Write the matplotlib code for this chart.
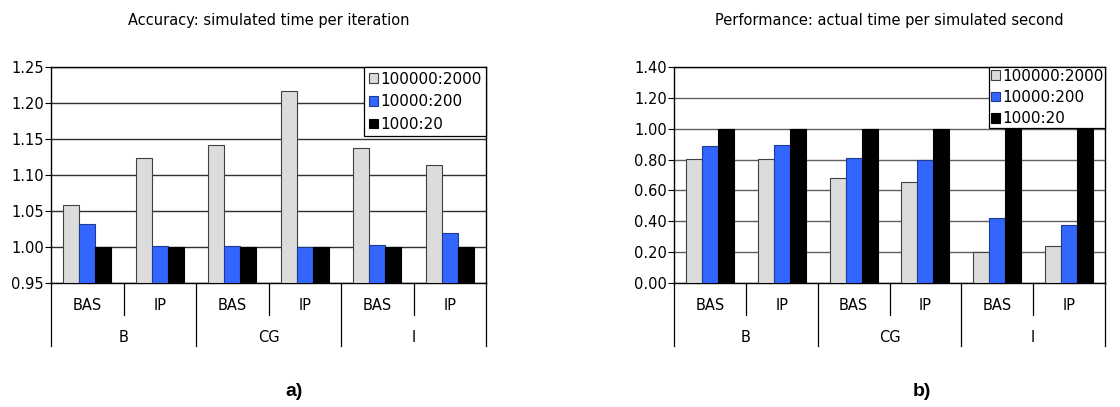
import numpy as np
import matplotlib.pyplot as plt
from matplotlib.ticker import FormatStrFormatter

# data
groups = ["B", "CG", "I"]
variants = ["BAS", "IP"]
series = ["100000:2000", "10000:200", "1000:20"]
colors = ["#dcdcdc", "#3366ff", "#000000"]
edges = ["#404040", "#1f3a8f", "#000000"]

acc_100000 = [1.059, 1.123, 1.142, 1.216, 1.138, 1.114]
acc_10000 = [1.032, 1.002, 1.001, 1.0005, 1.003, 1.019]
acc_1000 = [1.000, 1.000, 1.000, 1.000, 1.000, 1.000]

perf_100000 = [0.806, 0.806, 0.679, 0.656, 0.198, 0.239]
perf_10000 = [0.890, 0.897, 0.811, 0.798, 0.421, 0.376]
perf_1000 = [1.00, 1.00, 1.00, 1.00, 1.00, 1.00]

W, H = 1120, 407
fig = plt.figure(figsize=(W / 100, H / 100), dpi=100)


def px_rect(x0, x1, y_top, y_bot):
    return [x0 / W, 1 - y_bot / H, (x1 - x0) / W, (y_bot - y_top) / H]


def panel(rect, vals, ylim, ystep, title, grid_col, lspace, bpad, tag, tag_x):
    ax = fig.add_axes(rect)
    n = len(vals[0])
    x = np.arange(n)
    bw = 0.222
    for i, v in enumerate(vals):
        ax.bar(x + (i - 1) * bw, np.array(v) - ylim[0], bw, bottom=ylim[0],
               color=colors[i], edgecolor=edges[i], linewidth=0.8,
               label=series[i], zorder=3)
    ax.set_xlim(-0.5, n - 0.5)
    ax.set_ylim(*ylim)
    ax.set_yticks(np.arange(ylim[0], ylim[1] + ystep / 2, ystep))
    ax.yaxis.set_major_formatter(FormatStrFormatter("%.2f"))
    ax.tick_params(axis="y", labelsize=10.5, length=4, width=0.8, pad=1)
    ax.tick_params(axis="x", bottom=False, labelbottom=False)
    ax.grid(axis="y", color=grid_col, linewidth=1.0, zorder=0)
    for s in ax.spines.values():
        s.set_color("black")
        s.set_linewidth(1.0)
    ax.text(0.5, 1 + 47 / 216, title, transform=ax.transAxes, ha="center",
            va="center", fontsize=10.5)

    # two-level category axis below the plot
    tr = ax.get_xaxis_transform()
    for k in range(n + 1):
        low = -63 / 216 if k % 2 == 0 else -32 / 216
        ax.plot([k - 0.5, k - 0.5], [0, low], transform=tr, color="black",
                linewidth=0.9, clip_on=False)
    for k in range(n):
        ax.text(k, -23 / 216, variants[k % 2], transform=tr, ha="center",
                va="center", fontsize=10.5)
    for g, name in enumerate(groups):
        ax.text(2 * g + 0.5, -55 / 216, name, transform=tr, ha="center",
                va="center", fontsize=10.5)

    leg = ax.legend(loc="upper right", borderaxespad=0, fancybox=False,
                    framealpha=1, edgecolor="black", fontsize=11,
                    handlelength=0.6, handleheight=0.6, handletextpad=0.15,
                    labelspacing=lspace, borderpad=bpad)
    leg.get_frame().set_linewidth(0.9)
    leg.set_zorder(5)

    fig.text(tag_x / W, 1 - 391 / H, tag, ha="center", va="center",
             fontsize=14, fontweight="bold", family="Liberation Sans")
    return ax


panel(px_rect(51, 486, 67, 283),
      [acc_100000, acc_10000, acc_1000], (0.95, 1.25), 0.05,
      "Accuracy: simulated time per iteration", "#303030", 0.5, 0.3, "a)", 294)
panel(px_rect(674, 1105, 67, 283),
      [perf_100000, perf_10000, perf_1000], (0.0, 1.40), 0.20,
      "Performance: actual time per simulated second", "#606060", 0.42, 0.1, "b)", 922)

fig.savefig("out.png", dpi=100)
